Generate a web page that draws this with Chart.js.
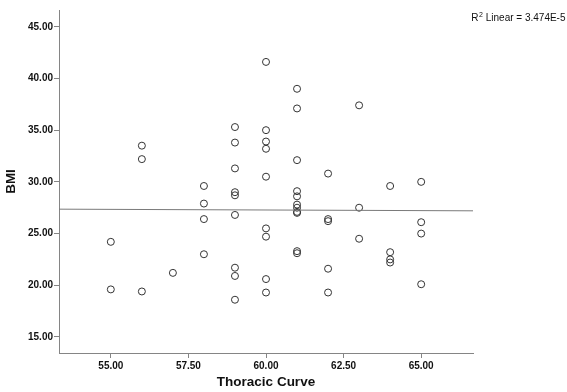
<!DOCTYPE html>
<html>
<head>
<meta charset="utf-8">
<script src="https://cdn.jsdelivr.net/npm/chart.js@4/dist/chart.umd.min.js"></script>
<style>
  html, body { margin: 0; padding: 0; background: #fff; }
  #wrap { width: 567px; height: 392px; position: relative; }
</style>
</head>
<body>
<div id="wrap"><canvas id="chart"></canvas></div>
<script>
// ── Data ────
const thoracic = [
  55, 55,
  56, 56, 56,
  57,
  58, 58, 58, 58,
  59, 59, 59, 59, 59, 59, 59, 59, 59,
  60, 60, 60, 60, 60, 60, 60, 60, 60,
  61, 61, 61, 61, 61, 61, 61, 61, 61, 61, 61,
  62, 62, 62, 62, 62,
  63, 63, 63,
  64, 64, 64, 64,
  65, 65, 65, 65
];
const bmi = [
  24.2, 19.6,
  33.5, 32.2, 19.4,
  21.2,
  29.6, 27.9, 26.4, 23.0,
  35.3, 33.8, 31.3, 29.0, 28.7, 26.8, 21.7, 20.9, 18.6,
  41.6, 35.0, 33.9, 33.2, 30.5, 25.5, 24.7, 20.6, 19.3,
  39.0, 37.1, 32.1, 29.1, 28.6, 27.8, 27.5, 27.1, 27.0, 23.3, 23.1,
  30.8, 26.4, 26.2, 21.6, 19.3,
  37.4, 27.5, 24.5,
  29.6, 23.2, 22.5, 22.2,
  30.0, 26.1, 25.0, 20.1
];
// fit line ends, as drawn
const fitX = [53.33, 66.67];
const fitY = [27.36, 27.20];

const xTicks = [55, 57.5, 60, 62.5, 65];
const yTicks = [15, 20, 25, 30, 35, 40, 45];
const xRange = [53.33, 66.67];
const yRange = [13.45, 46.62];

const xTitle = 'Thoracic Curve';
const yTitle = 'BMI';
const r2Parts = ['R', '2', ' Linear = 3.474E-5'];

// ── Styles ────
const FONT = "'Liberation Sans', Arial, sans-serif";
const AXIS = '#858585';

// ── R² label (R, superscript 2, rest) ────
const r2Plugin = {
  id: 'r2Label',
  afterDraw(chart) {
    const ctx = chart.ctx;
    ctx.save();
    ctx.fillStyle = '#111';
    ctx.textBaseline = 'alphabetic';
    const big = `10px ${FONT}`, small = `7px ${FONT}`;
    ctx.font = big;
    const w0 = ctx.measureText(r2Parts[0]).width;
    const w2 = ctx.measureText(r2Parts[2]).width;
    ctx.font = small;
    const w1 = ctx.measureText(r2Parts[1]).width;
    let x = 565 - (w0 + w1 + w2);
    const base = 21;
    ctx.font = big;
    ctx.fillText(r2Parts[0], x, base); x += w0;
    ctx.font = small;
    ctx.fillText(r2Parts[1], x + 0.5, base - 4); x += w1 + 0.5;
    ctx.font = big;
    ctx.fillText(r2Parts[2], x, base);
    ctx.restore();
  }
};

const tickFont = { family: FONT, size: 10, weight: 'bold' };
const titleFont = { family: FONT, size: 13.5, weight: 'bold' };

new Chart(document.getElementById('chart'), {
  type: 'scatter',
  data: {
    datasets: [
      {
        type: 'line',
        data: fitX.map((x, i) => ({ x, y: fitY[i] })),
        borderColor: '#7a7a7a',
        borderWidth: 1,
        pointRadius: 0,
        fill: false,
      },
      {
        data: thoracic.map((x, i) => ({ x, y: bmi[i] })),
        pointStyle: 'circle',
        pointRadius: 3.5,
        borderColor: '#333',
        borderWidth: 1,
        backgroundColor: 'rgba(0,0,0,0)',
      }
    ]
  },
  options: {
    responsive: true,
    maintainAspectRatio: false,
    animation: false,
    layout: { padding: { top: 10, right: 94, bottom: 0, left: 0 } },
    plugins: {
      legend: { display: false },
      tooltip: { enabled: false },
    },
    scales: {
      x: {
        type: 'linear',
        min: xRange[0],
        max: xRange[1],
        afterBuildTicks: s => { s.ticks = xTicks.map(v => ({ value: v })); },
        afterFit: s => { s.height = 39; },
        border: { display: true, color: AXIS, width: 1 },
        grid: { drawOnChartArea: false, drawTicks: true, tickLength: 5, color: AXIS },
        ticks: { font: tickFont, color: '#111', padding: 2, maxRotation: 0, callback: v => Number(v).toFixed(2) },
        title: { display: true, text: xTitle, font: titleFont, color: '#111', padding: { top: 0, bottom: 2 } },
      },
      y: {
        type: 'linear',
        min: yRange[0],
        max: yRange[1],
        afterBuildTicks: s => { s.ticks = yTicks.map(v => ({ value: v })); },
        afterFit: s => { s.width = 59; },
        border: { display: true, color: AXIS, width: 1 },
        grid: { drawOnChartArea: false, drawTicks: true, tickLength: 5, color: AXIS },
        ticks: { font: tickFont, color: '#111', padding: 1, callback: v => Number(v).toFixed(2) },
        title: { display: true, text: yTitle, font: titleFont, color: '#111', padding: { top: 3, bottom: 0 } },
      }
    }
  },
  plugins: [r2Plugin]
});
</script>
</body>
</html>
